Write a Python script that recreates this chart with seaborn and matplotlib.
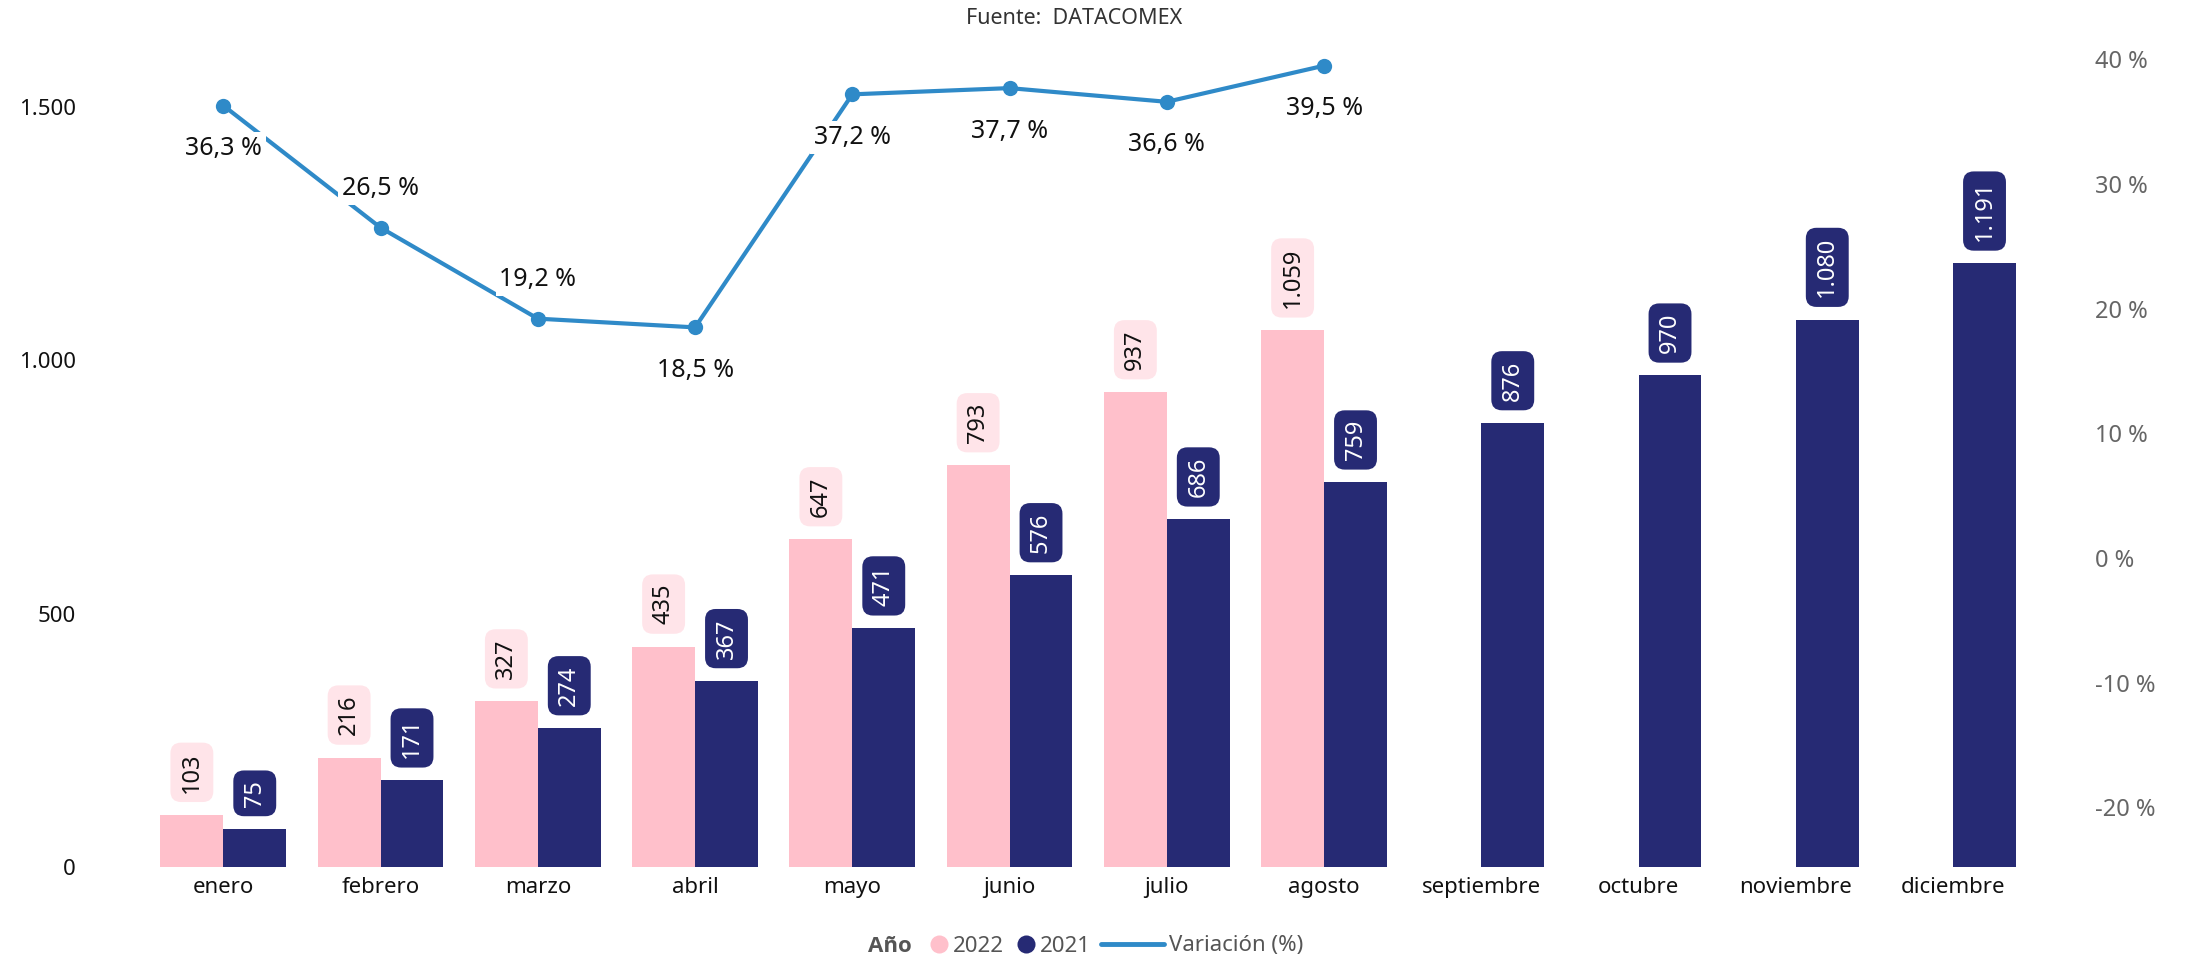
import numpy as np
import pandas as pd
import matplotlib
matplotlib.use("Agg")
import matplotlib.pyplot as plt
from matplotlib.lines import Line2D
import seaborn as sns

months = ["enero", "febrero", "marzo", "abril", "mayo", "junio", "julio",
          "agosto", "septiembre", "octubre", "noviembre", "diciembre"]
vals_2022 = [103, 216, 327, 435, 647, 793, 937, 1059]
vals_2021 = [75, 171, 274, 367, 471, 576, 686, 759, 876, 970, 1080, 1191]
variacion = [36.3, 26.5, 19.2, 18.5, 37.2, 37.7, 36.6, 39.5]
label_side = ["below", "above", "above", "below", "below", "below", "below", "below"]
left_ticks = [0, 500, 1000, 1500]
right_ticks = [-20, -10, 0, 10, 20, 30, 40]

PINK = "#FFC0CB"
PINK_BOX = "#FFE4E9"
NAVY = "#262A74"
BLUE = "#2F8AC8"

sns.set_theme(style="white")
plt.rcParams["font.family"] = ["Noto Sans", "DejaVu Sans"]

df = pd.DataFrame({
    "mes": months[:len(vals_2022)] + months,
    "valor": vals_2022 + vals_2021,
    "Año": ["2022"] * len(vals_2022) + ["2021"] * len(vals_2021),
})

W, H = 2187, 960
fig = plt.figure(figsize=(W / 100, H / 100), dpi=100)
left_px, right_px, top_px, bottom_px = 95, 2060, 42, 867
ax = fig.add_axes([left_px / W, 1 - bottom_px / H, (right_px - left_px) / W, (bottom_px - top_px) / H])

sns.barplot(data=df, x="mes", y="valor", hue="Año", order=months, hue_order=["2022", "2021"],
            palette={"2022": PINK, "2021": NAVY}, ax=ax, legend=False, saturation=1,
            width=0.8, linewidth=0, edgecolor="none")

ax.set_xlim(-0.816, 11.68)
ax.set_ylim(0, 1628)
ax.set_yticks(left_ticks)
ax.set_yticklabels([f"{v:,}".replace(",", ".") for v in left_ticks], fontsize=16, color="#111111")
ax.set_xticks(range(len(months)))
ax.set_xticklabels(months, fontsize=16, color="#111111")
ax.tick_params(axis="y", length=0, pad=14)
ax.tick_params(axis="x", length=0, pad=7)
ax.set_xlabel("")
ax.set_ylabel("")
for s in ax.spines.values():
    s.set_visible(False)

# bar labels
styles = [(PINK_BOX, "#111111"), (NAVY, "white")]
for cont, (bg, fg) in zip(ax.containers, styles):
    for bar in cont:
        h = bar.get_height()
        if np.isnan(h):
            continue
        xc = bar.get_x() + bar.get_width() / 2
        ax.annotate(f"{int(round(h)):,}".replace(",", "."), (xc, h), xytext=(0, 16),
                    textcoords="offset points", rotation=90, ha="center", va="bottom",
                    fontsize=17, color=fg, zorder=5,
                    bbox=dict(boxstyle="round,pad=0.4,rounding_size=0.45", fc=bg, ec="none"))

ax2 = ax.twinx()
xs = np.arange(len(variacion))
sns.lineplot(x=xs, y=variacion, ax=ax2, color=BLUE, linewidth=3, marker="o",
             markersize=11, markeredgewidth=0, zorder=3)
ax2.set_xlim(-0.816, 11.68)
ax2.set_ylim(-24.8, 41.4)
ax2.set_yticks(right_ticks)
ax2.set_yticklabels([f"{v} %" for v in right_ticks], fontsize=17, color="#666666")
ax2.tick_params(axis="y", length=0, pad=25)
ax2.set_ylabel("")
for s in ax2.spines.values():
    s.set_visible(False)

for x, v, side in zip(xs, variacion, label_side):
    dy = -31 if side == "below" else 28
    ax2.annotate(f"{v:.1f} %".replace(".", ","), (x, v), xytext=(0, dy),
                 textcoords="offset points", ha="center", va="center",
                 fontsize=18, color="#111111", zorder=6,
                 bbox=dict(boxstyle="square,pad=0.15", fc="white", ec="none"))

fig.text(1074 / W, 1 - 18 / H, "Fuente:  DATACOMEX", ha="center", va="center",
         fontsize=15.5, color="#333333")

# legend
ly = 1 - 946 / H
fig.text(912 / W, ly, "Año", ha="right", va="center", fontsize=16,
         fontweight="bold", color="#555555", family="Open Sans")
h_circ = [
    Line2D([], [], marker="o", linestyle="none", markersize=13, markerfacecolor=PINK, markeredgewidth=0),
    Line2D([], [], marker="o", linestyle="none", markersize=13, markerfacecolor=NAVY, markeredgewidth=0),
]
fig.legend(h_circ, ["2022", "2021"], loc="center left", bbox_to_anchor=(930 / W, ly), ncol=2,
           frameon=False, fontsize=16, handlelength=0.8, handletextpad=0.23, columnspacing=0.59,
           labelcolor="#555555", borderaxespad=0, borderpad=0)
h_line = [Line2D([], [], color=BLUE, linewidth=3.5)]
fig.legend(h_line, ["Variación (%)"], loc="center left", bbox_to_anchor=(1101 / W, ly),
           frameon=False, fontsize=16, handlelength=2.84, handletextpad=0.23,
           labelcolor="#555555", borderaxespad=0, borderpad=0)

fig.savefig("out.png", dpi=100)
